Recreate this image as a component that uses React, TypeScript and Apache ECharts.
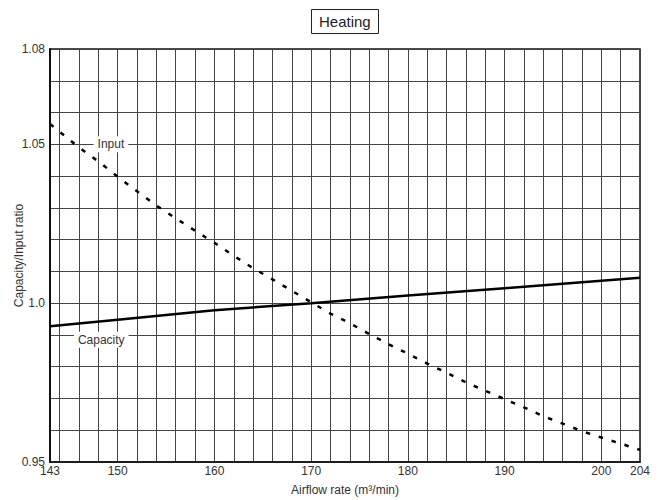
import React, { useEffect, useRef } from "react";
import * as echarts from "echarts";

const FONT = "'Liberation Sans', Arial, Helvetica, sans-serif";

// Input (dashed) curve
const inputX = [143, 146, 148, 150, 152, 154, 156, 158, 160, 162, 164, 166, 168, 170, 172, 174, 176, 178, 180, 182, 184, 186, 188, 190, 192, 194, 196, 198, 200, 202, 204];
const inputY = [1.0564, 1.049, 1.0446, 1.0398, 1.0352, 1.0307, 1.0267, 1.0228, 1.019, 1.0149, 1.011, 1.0075, 1.0039, 1.0003, 0.9967, 0.9937, 0.9903, 0.9871, 0.9841, 0.981, 0.9781, 0.9751, 0.9724, 0.9698, 0.9672, 0.9644, 0.9621, 0.9597, 0.9577, 0.9558, 0.9538];

// Capacity (solid) curve
const capX = [143, 150, 160, 170, 180, 190, 204];
const capY = [0.9927, 0.9948, 0.9978, 1.0, 1.0024, 1.0047, 1.008];

// Axis ticks
const xTickValues = [143, 150, 160, 170, 180, 190, 200, 204];
const yTickValues = [0.95, 1.0, 1.05, 1.08];
const yTickLabels = ["0.95", "1.0", "1.05", "1.08"];

// Line labels
const labelNames = ["Input", "Capacity"];
const labelAnchors = [
  [149.3, 1.05],
  [148.3, 0.9885],
];

export default function App() {
  const ref = useRef<HTMLDivElement>(null);
  useEffect(() => {
    if (!ref.current) return;
    const chart = echarts.init(ref.current, undefined, { renderer: "svg" });
    const labelStyle = (name: string) => ({
      show: true,
      position: "inside",
      formatter: name,
      backgroundColor: "#fff",
      padding: [2, 4],
      color: "#333",
      fontSize: 12,
      fontFamily: FONT,
    });
    chart.setOption({
      animation: false,
      backgroundColor: "#fff",
      title: {
        text: "Heating",
        left: 311,
        top: 9,
        borderColor: "#222",
        borderWidth: 1,
        padding: [5, 8],
        textStyle: { fontSize: 15, fontWeight: "normal", color: "#222", fontFamily: FONT },
      },
      grid: {
        left: 50,
        right: 20,
        top: 49,
        bottom: 38,
        containLabel: false,
        outerBoundsMode: "none",
        show: true,
        borderColor: "#111",
        borderWidth: 1.5,
        backgroundColor: "transparent",
      },
      xAxis: {
        type: "value",
        min: 143,
        max: 204,
        interval: 1,
        name: "Airflow rate (m³/min)",
        nameLocation: "middle",
        nameGap: 22,
        nameMoveOverlap: false,
        nameTextStyle: { fontSize: 12, color: "#333", fontFamily: FONT },
        axisLine: { show: true, lineStyle: { color: "#111", width: 1.5 } },
        axisTick: { show: false },
        axisLabel: {
          margin: 3,
          fontSize: 12,
          color: "#333",
          fontFamily: FONT,
          showMinLabel: true,
          showMaxLabel: true,
          formatter: (v: number) => {
            const r = Math.round(v);
            return xTickValues.indexOf(r) >= 0 ? String(r) : "";
          },
        },
        splitLine: {
          show: true,
          lineStyle: { color: ["rgba(0,0,0,0)", "#444"], width: 1 },
        },
      },
      yAxis: {
        type: "value",
        min: 0.95,
        max: 1.08,
        interval: 0.01,
        name: "Capacity/Input ratio",
        nameLocation: "middle",
        nameRotate: 90,
        nameGap: 25,
        nameMoveOverlap: false,
        nameTextStyle: { fontSize: 12, color: "#333", fontFamily: FONT },
        axisLine: { show: true, lineStyle: { color: "#111", width: 2 } },
        axisTick: { show: false },
        axisLabel: {
          margin: 5,
          fontSize: 12,
          color: "#333",
          fontFamily: FONT,
          showMinLabel: true,
          showMaxLabel: true,
          formatter: (v: number) => {
            const i = yTickValues.findIndex((t) => Math.abs(t - v) < 1e-6);
            return i >= 0 ? yTickLabels[i] : "";
          },
        },
        splitLine: { show: true, lineStyle: { color: "#444", width: 1 } },
      },
      series: [
        {
          name: "Input",
          type: "line",
          data: inputX.map((x, i) => [x, inputY[i]]),
          showSymbol: false,
          lineStyle: { color: "#000", width: 2.5, type: [4.5, 9] },
          z: 3,
          markPoint: {
            symbol: "rect",
            symbolSize: 1,
            itemStyle: { color: "rgba(0,0,0,0)" },
            silent: true,
            data: [{ coord: labelAnchors[0], label: labelStyle(labelNames[0]) }],
          },
        },
        {
          name: "Capacity",
          type: "line",
          data: capX.map((x, i) => [x, capY[i]]),
          showSymbol: false,
          lineStyle: { color: "#000", width: 2.5 },
          z: 3,
          markPoint: {
            symbol: "rect",
            symbolSize: 1,
            itemStyle: { color: "rgba(0,0,0,0)" },
            silent: true,
            data: [{ coord: labelAnchors[1], label: labelStyle(labelNames[1]) }],
          },
        },
      ],
    });
    return () => chart.dispose();
  }, []);
  return (
    <div
      ref={ref}
      style={{ position: "absolute", left: 0, top: 0, width: 660, height: 500 }}
    />
  );
}
